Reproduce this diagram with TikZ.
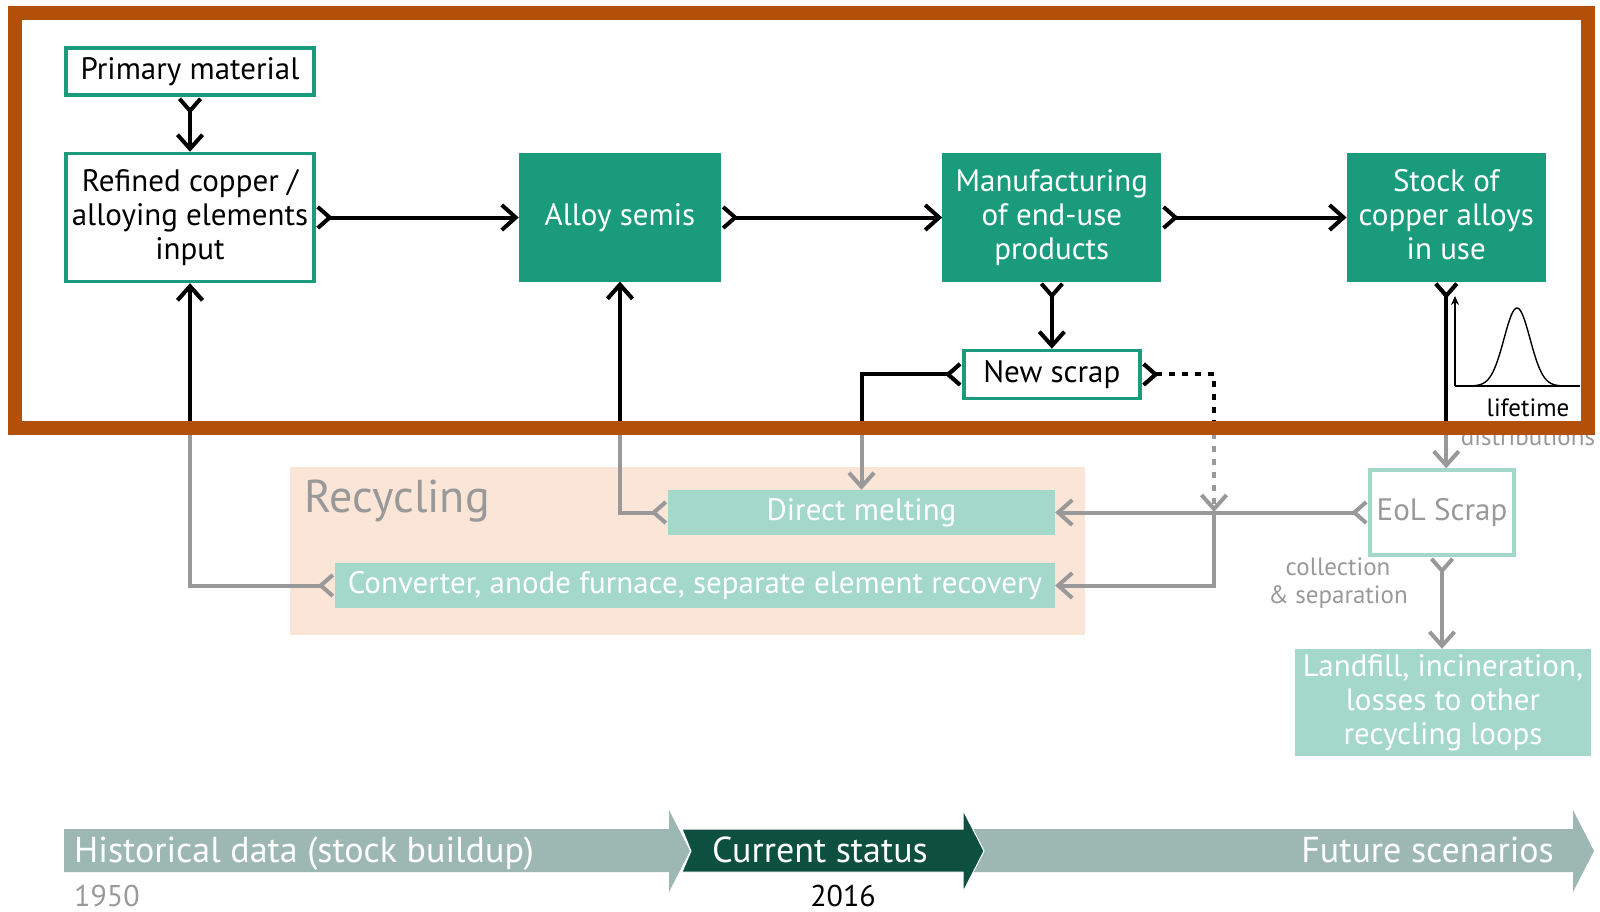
\documentclass[tikz,border=0pt]{standalone}
\usepackage{fontspec}
\setmainfont{PT Sans}
\usetikzlibrary{positioning, arrows.meta}

\definecolor{cuframe}{RGB}{178,80,10}
\definecolor{tealdark}{RGB}{26,156,124}
\definecolor{teallight}{RGB}{163,216,203}
\definecolor{peach}{RGB}{251,229,214}
\definecolor{linegray}{RGB}{153,153,153}
\definecolor{timegray}{RGB}{157,184,178}
\definecolor{nowgreen}{RGB}{14,80,64}

% loop flows, drawn once in gray and once clipped in black
\newcommand{\returnflows}{%
  \draw[flow] (newscrap.west) -| (directmelt.north);
  \draw[flow, dash pattern=on 6pt off 7pt] (newscrap.east) -| (junction);
  \draw[flow] (directmelt.west) -| (alloy.south);
  \draw[flow] (converter.west) -| (refined.south);
  \draw[flow] (stock.south) -- (stock.south |- eol.north);
}

\begin{document}
\begin{tikzpicture}[
    x=1pt, y=-1pt,
    every node/.style={align=center, inner sep=0pt, font=\fontsize{31}{34}\selectfont},
    boxopen/.style={draw=tealdark, line width=3.5pt, fill=white, text=black},
    boxfull/.style={fill=tealdark, text=white},
    boxlight/.style={fill=teallight, text=white},
    smalltext/.style={font=\fontsize{25}{28}\selectfont},
    timetext/.style={text=white, font=\fontsize{36}{40}\selectfont},
    flow/.style={line width=4pt, {Straight Barb[reversed, length=12pt, width=21pt]}-{Straight Barb[length=14pt, width=25pt]}},
    endflow/.style={line width=4pt, -{Straight Barb[length=14pt, width=25pt]}}
]
\useasboundingbox (0,0) rectangle (1600,912);

% recycling area
\node[fill=peach, minimum width=795pt, minimum height=168pt] (recycling) at (687.5,551) {};
\node[anchor=west, text=linegray, font=\fontsize{46}{52}\selectfont] (recyclingtitle) at (304,501) {Recycling};

% process chain
\node[boxopen, minimum width=248pt, minimum height=47pt] (primary) at (190,71.5) {Primary material};
\node[boxopen, minimum width=248pt, minimum height=128pt, below=55pt of primary] (refined) {Refined copper /\\alloying elements\\input};
\node[boxfull, minimum width=202pt, minimum height=128pt, right=203pt of refined] (alloy) {Alloy semis};
\node[boxfull, minimum width=219pt, minimum height=128pt, right=221pt of alloy] (manuf) {Manufacturing\\of end-use\\products};
\node[boxfull, minimum width=199pt, minimum height=128pt, right=185pt of manuf] (stock) {Stock of\\copper alloys\\in use\rule[-7pt]{0pt}{7pt}};
\node[boxopen, minimum width=176pt, minimum height=48pt, below=67pt of manuf] (newscrap) {New scrap};

% scrap handling
\node[draw=teallight, line width=3.5pt, fill=white, text=linegray, minimum width=144pt, minimum height=85pt] (eol) at (1442,512.5) {EoL Scrap};
\node[boxlight, minimum width=296pt, minimum height=107pt] (landfill) at (1443,702.5) {Landfill, incineration,\\losses to other\\recycling loops};
\node[boxlight, minimum width=387pt, minimum height=45pt] (directmelt) at (861.5,512.5) {Direct melting};
\node[boxlight, minimum width=720pt, minimum height=45pt] (converter) at (695,585.5) {Converter, anode furnace, separate element recovery};
\node[smalltext, text=linegray] (collection) at (1338,583) {collection\\\& separation};
\coordinate (junction) at (1214,512);

% main chain
\draw[flow] (primary.south) -- (refined.north);
\draw[flow] (refined.east) -- (alloy.west);
\draw[flow] (alloy.east) -- (manuf.west);
\draw[flow] (manuf.east) -- (stock.west);
\draw[flow] (manuf.south) -- (newscrap.north);

% gray flows
\draw[flow, linegray] (eol.west) -- (directmelt.east);
\draw[endflow, linegray] (junction) |- (converter.east);
\draw[flow, linegray] (eol.south) -- (eol.south |- landfill.north);
\begin{scope}[color=linegray]
\returnflows
\end{scope}
\begin{scope}
\clip (15,13) rectangle (1588,428);
\returnflows
\end{scope}

% lifetime distribution
\node[smalltext, text=linegray, anchor=base] (distlabel) at (1528,445) {distributions};
\draw[line width=1.4pt, -{Stealth[length=9pt, width=8pt]}] (1455,386) -- (1455,296);
\draw[line width=1.4pt] (1455,386) -- (1580,386);
\draw[line width=1.4pt] plot[domain=1458:1578, samples=80] (\x, {386-78*exp(-((\x-1517)/13)^2/2)});
\node[smalltext, anchor=base] (lifelabel) at (1528,416) {lifetime};

% model boundary
\draw[cuframe, line width=14pt] (15,13) rectangle (1588,428);

% time line
\fill[timegray] (64,829) -- (669,829) -- (669,810) -- (690,851) -- (669,892) -- (669,872) -- (64,872) -- cycle;
\fill[timegray] (960,829) -- (1573,829) -- (1573,810) -- (1594,851) -- (1573,892) -- (1573,872) -- (960,872) -- cycle;
\filldraw[fill=nowgreen, draw=white, line width=1pt] (682,829) -- (963,829) -- (963,810) -- (984,851) -- (963,892) -- (963,872) -- (682,872) -- (691,851) -- cycle;
\node[timetext, anchor=base west] (historical) at (74,862) {Historical data (stock buildup)};
\node[timetext, anchor=base] (current) at (820,862) {Current status};
\node[timetext, anchor=base east] (future) at (1554,862) {Future scenarios};
\node[anchor=base west, text=linegray, font=\fontsize{30}{34}\selectfont] (startyear) at (74,906) {1950};
\node[anchor=base, font=\fontsize{30}{34}\selectfont] (nowyear) at (843,906) {2016};
\end{tikzpicture}
\end{document}
